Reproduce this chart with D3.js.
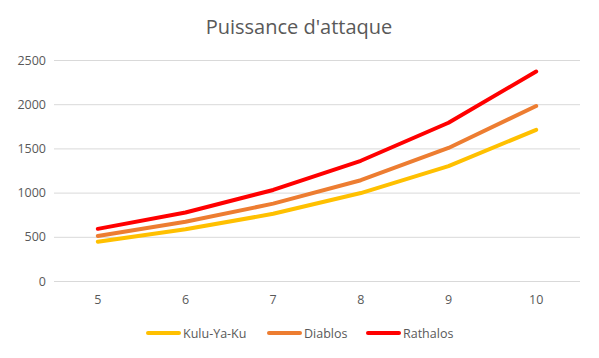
<!DOCTYPE html>
<html><head><meta charset="utf-8">
<script src="https://cdn.jsdelivr.net/npm/d3@7"></script>
<style>body{margin:0;background:#fff}svg{display:block}</style>
</head><body>
<svg id="c" width="599" height="358"></svg>
<script>
const categories = ["5","6","7","8","9","10"];
const kulu = [445, 585, 760, 995, 1300, 1710];
const diablos = [510, 670, 875, 1140, 1505, 1980];
const rathalos = [590, 775, 1030, 1360, 1790, 2370];
const yTicks = [0, 500, 1000, 1500, 2000, 2500];
const seriesNames = ["Kulu-Ya-Ku", "Diablos", "Rathalos"];
const seriesColors = ["#FFC000", "#ED7D31", "#FF0000"];
const series = [kulu, diablos, rathalos];

(function () {
const svg = d3.select("#c");
const font = "'Open Sans', 'Liberation Sans', sans-serif";
const mLeft = 54, mRight = 580, mTop = 60, mBottom = 281;
const x = d3.scaleBand().domain(categories).range([mLeft, mRight]);
const y = d3.scaleLinear().domain([0, 2500]).range([mBottom, mTop]);

svg.append("text").attr("x", 299).attr("y", 34).attr("text-anchor", "middle")
  .attr("font-family", font).attr("font-size", 20).attr("fill", "#595959")
  .text("Puissance d'attaque");

const yAxis = svg.append("g").attr("transform", `translate(${mLeft},0)`)
  .call(d3.axisLeft(y).tickValues(yTicks).tickFormat(d3.format("d")).tickSize(-(mRight - mLeft)).tickPadding(8));
yAxis.select(".domain").remove();
yAxis.selectAll("line").attr("stroke", "#d9d9d9");
yAxis.selectAll("text").attr("font-family", font).attr("font-size", 12.5).attr("fill", "#595959");

const xAxis = svg.append("g").attr("transform", `translate(0,${mBottom})`)
  .call(d3.axisBottom(x).tickSize(0).tickPadding(14));
xAxis.select(".domain").remove();
xAxis.selectAll("text").attr("font-family", font).attr("font-size", 12.5).attr("fill", "#595959");

const line = d3.line().x((d, i) => x(categories[i]) + x.bandwidth() / 2).y(d => y(d));
series.forEach((s, k) => {
  svg.append("path").datum(s).attr("d", line).attr("fill", "none")
    .attr("stroke", seriesColors[k]).attr("stroke-width", 4)
    .attr("stroke-linecap", "round").attr("stroke-linejoin", "round");
});

const legendX = [146, 267, 366];
const lg = svg.append("g");
seriesNames.forEach((n, k) => {
  lg.append("line").attr("x1", legendX[k] + 2).attr("x2", legendX[k] + 33)
    .attr("y1", 333).attr("y2", 333).attr("stroke", seriesColors[k])
    .attr("stroke-width", 4).attr("stroke-linecap", "round");
  lg.append("text").attr("x", legendX[k] + 37).attr("y", 337.5)
    .attr("font-family", font).attr("font-size", 12.5).attr("fill", "#595959").text(n);
});
})();
</script>
</body></html>
